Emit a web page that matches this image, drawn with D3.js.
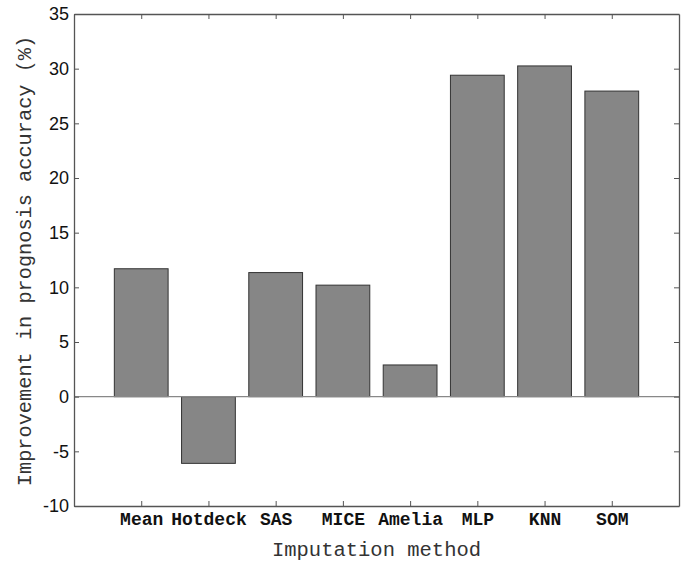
<!DOCTYPE html>
<html>
<head>
<meta charset="utf-8">
<script src="https://cdn.jsdelivr.net/npm/d3@7/dist/d3.min.js"></script>
<style>
  html, body { margin: 0; padding: 0; background: #fff; }
  svg { display: block; }
</style>
</head>
<body>
<svg id="chart" width="686" height="562"></svg>
<script>
const categories = ["Mean", "Hotdeck", "SAS", "MICE", "Amelia", "MLP", "KNN", "SOM"];
const values = [11.7, -6.1, 11.35, 10.2, 2.9, 29.4, 30.25, 27.95];
const yTicks = [-10, -5, 0, 5, 10, 15, 20, 25, 30, 35];

const svg = d3.select("#chart");
const margin = { left: 74, top: 14, right: 7, bottom: 56 };
const W = 686, H = 562;
const x0 = margin.left, x1 = W - margin.right;
const y0 = margin.top, y1 = H - margin.bottom;

const x = d3.scaleLinear().domain([0, categories.length + 1]).range([x0, x1]);
const y = d3.scaleLinear().domain([-10, 35]).range([y1, y0]);
const step = x(1) - x(0);
const barW = step * 0.8;

const axisColor = "#555";

// bars
svg.append("g").selectAll("rect").data(values).join("rect")
  .attr("x", (d, i) => x(i + 1) - barW / 2)
  .attr("width", barW)
  .attr("y", d => y(Math.max(0, d)))
  .attr("height", d => Math.abs(y(d) - y(0)))
  .attr("fill", "#868686")
  .attr("stroke", "#333")
  .attr("stroke-width", 1);

// zero line
svg.append("line")
  .attr("x1", x0).attr("x2", x1)
  .attr("y1", y(0)).attr("y2", y(0))
  .attr("stroke", "#888").attr("stroke-width", 1.2);

// left axis (ticks inward)
const gL = svg.append("g").attr("transform", `translate(${x0},0)`)
  .call(d3.axisLeft(y).tickValues(yTicks).tickFormat(d => String(d))
    .tickSizeInner(-5).tickSizeOuter(0).tickPadding(5));
// right axis ticks
const gR = svg.append("g").attr("transform", `translate(${x1},0)`)
  .call(d3.axisRight(y).tickValues(yTicks).tickSizeInner(-5).tickSizeOuter(0).tickFormat(""));
// bottom axis
const gB = svg.append("g").attr("transform", `translate(0,${y1})`)
  .call(d3.axisBottom(x).tickValues(d3.range(1, categories.length + 1))
    .tickFormat(d => categories[d - 1]).tickSizeInner(-5).tickSizeOuter(0).tickPadding(6));
// top axis ticks
const gT = svg.append("g").attr("transform", `translate(0,${y0})`)
  .call(d3.axisTop(x).tickValues(d3.range(1, categories.length + 1))
    .tickFormat("").tickSizeInner(-5).tickSizeOuter(0));

[gL, gR, gB, gT].forEach(g => {
  g.select(".domain").attr("stroke", axisColor).attr("stroke-width", 1.3);
  g.selectAll(".tick line").attr("stroke", axisColor).attr("stroke-width", 1);
});

gL.selectAll(".tick text")
  .attr("font-family", "'Liberation Sans', Arial, sans-serif")
  .attr("font-size", 18).attr("fill", "#111");
gB.selectAll(".tick text")
  .attr("font-family", "'Liberation Mono', 'Courier New', monospace")
  .attr("font-weight", "bold")
  .attr("font-size", 18).attr("fill", "#111");

// axis titles
svg.append("text")
  .attr("x", (x0 + x1) / 2).attr("y", 556)
  .attr("text-anchor", "middle")
  .attr("font-family", "'Liberation Mono', 'Courier New', monospace")
  .attr("font-size", 20.5).attr("fill", "#333")
  .text("Imputation method");

svg.append("text")
  .attr("transform", `translate(31,261) rotate(-90)`)
  .attr("text-anchor", "middle")
  .attr("font-family", "'Liberation Mono', 'Courier New', monospace")
  .attr("font-size", 20.3).attr("fill", "#333")
  .text("Improvement in prognosis accuracy (%)");
</script>
</body>
</html>
